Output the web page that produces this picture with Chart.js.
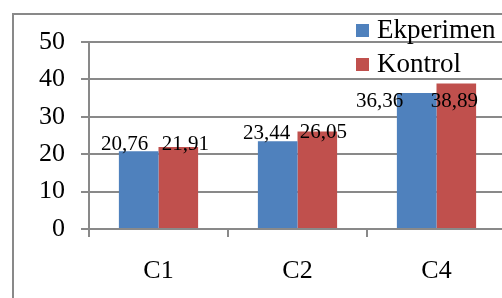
<!DOCTYPE html>
<html>
<head>
<meta charset="utf-8">
<script src="https://cdn.jsdelivr.net/npm/chart.js@4.4.0/dist/chart.umd.min.js"></script>
<style>
  html, body { margin: 0; padding: 0; overflow: hidden; background: #fff; }
  #frame { position: absolute; left: 12px; top: 13px; width: 530px; height: 330px; border: 2px solid #898989; box-sizing: border-box; }
  #wrap { position: absolute; left: 0; top: 0; width: 520px; height: 298px; }
</style>
</head>
<body>
<div id="frame"></div>
<div id="wrap"><canvas id="chart"></canvas></div>
<script>
const categories = ['C1', 'C2', 'C4'];
const ekperimen = [20.76, 23.44, 36.36];
const kontrol = [21.91, 26.05, 38.89];
const yTicks = [0, 10, 20, 30, 40, 50];

// where Excel left the value labels, relative to each bar top (px)
const labelShift = [
    [[-14, -7], [-11, -8], [-37, 8]],
    [[7, -3], [6, 1], [-2, 18]]
];

const serif = "'Liberation Serif', 'Times New Roman', serif";
const gridGray = '#898989';

const fmt = v => v.toFixed(2).replace('.', ',');

const valueLabels = {
    id: 'valueLabels',
    afterDatasetsDraw(chart) {
        const ctx = chart.ctx;
        ctx.save();
        ctx.font = '21px ' + serif;
        ctx.fillStyle = '#000';
        ctx.textAlign = 'center';
        ctx.textBaseline = 'middle';
        chart.data.datasets.forEach((ds, i) => {
            chart.getDatasetMeta(i).data.forEach((bar, j) => {
                const s = labelShift[i][j];
                ctx.fillText(fmt(ds.data[j]), bar.x + s[0], bar.y + s[1]);
            });
        });
        ctx.restore();
    }
};

const sideLegend = {
    id: 'sideLegend',
    afterDraw(chart) {
        const ctx = chart.ctx;
        const x = chart.chartArea.right - 150;
        const y = chart.chartArea.top - 11;
        ctx.save();
        ctx.font = '27px ' + serif;
        ctx.textBaseline = 'middle';
        chart.data.datasets.forEach((ds, i) => {
            const cy = y + i * 34;
            ctx.fillStyle = ds.backgroundColor;
            ctx.fillRect(x, cy - 7, 13, 13);
            ctx.fillStyle = '#000';
            ctx.fillText(ds.label, x + 21, cy);
        });
        ctx.restore();
    }
};

new Chart(document.getElementById('chart'), {
    type: 'bar',
    data: {
        labels: categories,
        datasets: [{
            label: 'Ekperimen',
            data: ekperimen,
            backgroundColor: '#4F81BD',
            borderWidth: 0
        }, {
            label: 'Kontrol',
            data: kontrol,
            backgroundColor: '#C0504D',
            borderWidth: 0
        }]
    },
    options: {
        responsive: true,
        maintainAspectRatio: false,
        animation: false,
        barPercentage: 1,
        categoryPercentage: 0.57,
        layout: {
            padding: { left: 39, right: 14, top: 42, bottom: 12 }
        },
        plugins: {
            legend: { display: false },
            tooltip: { enabled: false }
        },
        scales: {
            x: {
                afterFit(scale) { scale.height = 57; },
                grid: { drawOnChartArea: false, tickLength: 8, color: gridGray, lineWidth: 2 },
                border: { color: gridGray, width: 2 },
                ticks: { color: '#000', font: { family: serif, size: 26 }, padding: 19, maxRotation: 0 }
            },
            y: {
                min: yTicks[0],
                max: yTicks[yTicks.length - 1],
                afterFit(scale) { scale.width = 50; },
                afterBuildTicks(scale) {
                    scale.ticks = yTicks.map(v => ({ value: v }));
                },
                grid: { color: gridGray, lineWidth: 2, tickLength: 8 },
                border: { color: gridGray, width: 2 },
                ticks: { color: '#000', font: { family: serif, size: 26 }, padding: 16, autoSkip: false }
            }
        }
    },
    plugins: [valueLabels, sideLegend]
});
</script>
</body>
</html>
